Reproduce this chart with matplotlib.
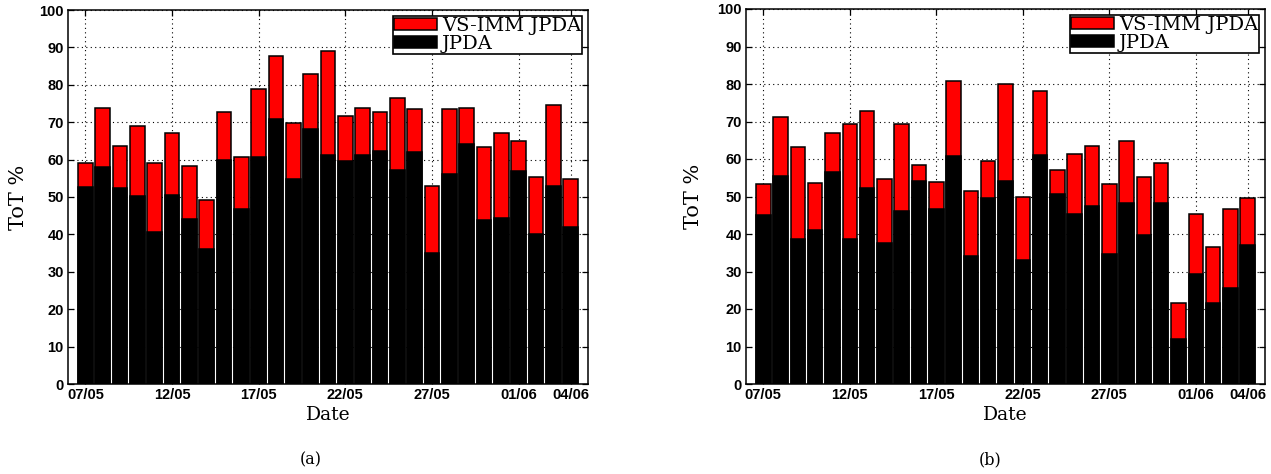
import matplotlib
matplotlib.use("Agg")
import matplotlib.pyplot as plt
import numpy as np

dates = ["07/05", "08/05", "09/05", "10/05", "11/05", "12/05", "13/05", "14/05",
         "15/05", "16/05", "17/05", "18/05", "19/05", "20/05", "21/05", "22/05",
         "23/05", "24/05", "25/05", "26/05", "27/05", "28/05", "29/05", "30/05",
         "31/05", "01/06", "02/06", "03/06", "04/06"]
shown_dates = ["07/05", "12/05", "17/05", "22/05", "27/05", "01/06", "04/06"]

vsimm_a = [59.0, 73.7, 63.7, 69.0, 59.2, 67.2, 58.4, 49.1, 72.6, 60.8, 78.9, 87.7,
           69.9, 82.9, 89.0, 71.6, 73.7, 72.6, 76.4, 73.4, 52.9, 73.4, 73.7, 63.5,
           67.1, 65.1, 55.4, 74.7, 54.7]
jpda_a = [52.6, 58.1, 52.3, 50.3, 40.7, 50.6, 44.1, 36.0, 59.9, 46.9, 60.6, 70.8,
          54.7, 68.1, 61.2, 59.5, 61.2, 62.2, 57.1, 61.9, 34.9, 56.1, 64.3, 43.9,
          44.5, 57.0, 40.0, 53.0, 42.1]

vsimm_b = [53.4, 71.1, 63.3, 53.7, 67.0, 69.3, 72.8, 54.6, 69.3, 58.4, 54.0, 80.9,
           51.5, 59.6, 80.0, 49.9, 78.1, 57.2, 61.4, 63.4, 53.4, 64.8, 55.2, 58.9,
           21.7, 45.4, 36.6, 46.8, 49.7]
jpda_b = [45.1, 55.6, 38.8, 41.2, 56.6, 38.8, 52.2, 37.5, 46.1, 54.1, 46.7, 60.7,
          34.2, 49.7, 54.1, 33.1, 61.2, 50.8, 45.3, 47.6, 34.8, 48.4, 39.8, 48.4,
          11.9, 29.3, 21.7, 25.6, 37.1]

W, H = 1271, 474
fig = plt.figure(figsize=(W / 100, H / 100), dpi=100)

serif = ["DejaVu Serif"]
sans = ["Liberation Sans", "DejaVu Sans"]

panels = [
    (vsimm_a, jpda_a, [68, 10, 588, 384], "(a)", 311, 28),
    (vsimm_b, jpda_b, [746, 9, 1265, 384], "(b)", 990, 703),
]

for vs, jp, (x0, y0, x1, y1), tag, tagx, ylx in panels:
    ax = fig.add_axes([x0 / W, 1 - y1 / H, (x1 - x0) / W, (y1 - y0) / H])
    x = np.arange(len(dates))
    ax.bar(x, vs, width=0.84, color="#ff0000", edgecolor="black", linewidth=1.1,
           label="VS-IMM JPDA", zorder=2)
    ax.bar(x, jp, width=0.84, color="black", edgecolor="black", linewidth=1.1,
           label="JPDA", zorder=3)
    ax.set_xlim(-1, len(dates))
    ax.set_ylim(0, 100)
    tick_idx = [dates.index(d) for d in shown_dates]
    ax.set_xticks(tick_idx)
    ax.set_xticklabels(shown_dates, family=sans, fontsize=10.5, fontweight="bold")
    ax.set_yticks(np.arange(0, 101, 10))
    ax.set_yticklabels([str(v) for v in range(0, 101, 10)], family=sans,
                       fontsize=10.5, fontweight="bold")
    ax.tick_params(direction="in", top=True, right=True, length=4, width=0.9,
                   pad=3, colors="black")
    ax.grid(True, color="black", linestyle=(0, (1, 3)), linewidth=0.8, zorder=0)
    ax.set_axisbelow(True)
    for s in ax.spines.values():
        s.set_linewidth(1.1)
    ax.set_xlabel("Date", family=serif, fontsize=13.5)
    ax.xaxis.set_label_coords(0.5, -0.058)
    ax.set_ylabel("ToT %", family=serif, fontsize=15)
    ax.yaxis.set_label_coords((ylx - x0) / (x1 - x0), 0.5)
    leg = ax.legend(loc="upper right", prop={"family": serif, "size": 14},
                    frameon=True, fancybox=False, edgecolor="black",
                    framealpha=1, borderpad=0.05, labelspacing=0.0,
                    handlelength=2.2, handleheight=0.6, handletextpad=0.25,
                    borderaxespad=0.3)
    leg.get_frame().set_linewidth(1.2)
    fig.text(tagx / W, 1 - 460 / H, tag, family=serif, fontsize=11.5,
             ha="center", va="center")

fig.savefig("out.png", dpi=100)
